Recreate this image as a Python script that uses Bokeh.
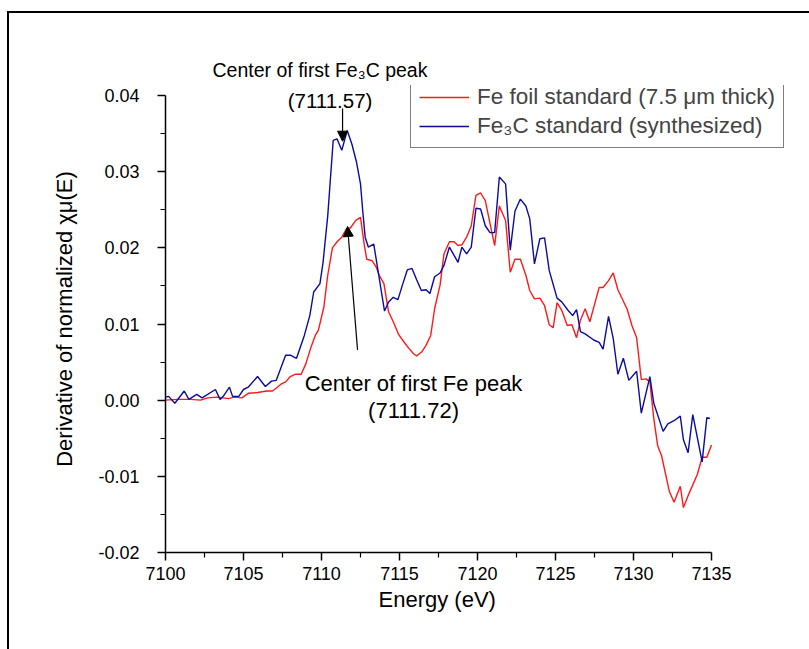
from bokeh.plotting import figure
from bokeh.models import (Label, Arrow, NormalHead, Legend, LegendItem, Title,
                          FixedTicker, NumeralTickFormatter, InlineStyleSheet,
                          ColumnDataSource, Range1d)
from bokeh.embed import file_html
from bokeh.resources import INLINE

# ---------------- data ----------------
fe3c_energy = [7100.0, 7100.2, 7100.6, 7101.2, 7101.5, 7102.0, 7102.35, 7103.2, 7103.5, 7103.7,
               7104.1, 7104.3, 7104.7, 7105.0, 7105.3, 7105.9, 7106.4, 7106.8, 7107.1, 7107.7,
               7108.0, 7108.4, 7108.9, 7109.25, 7109.5, 7109.9, 7110.1, 7110.4, 7110.75, 7111.0,
               7111.3, 7111.65, 7111.95, 7112.25, 7112.5, 7112.65, 7112.8, 7113.0, 7113.35, 7113.67,
               7114.04, 7114.3, 7114.6, 7114.9, 7115.2, 7115.5, 7115.8, 7116.1, 7116.4, 7116.7,
               7116.95, 7117.25, 7117.6, 7117.85, 7118.2, 7118.5, 7118.75, 7119.0, 7119.3, 7119.6,
               7119.9, 7120.2, 7120.5, 7120.8, 7121.1, 7121.4, 7121.8, 7122.1, 7122.4, 7122.75,
               7123.1, 7123.35, 7123.65, 7124.0, 7124.3, 7124.6, 7125.1, 7125.4, 7125.8, 7126.1,
               7126.35, 7126.6, 7126.9, 7127.45, 7127.8, 7128.05, 7128.4, 7128.7, 7129.0, 7129.35,
               7129.7, 7130.2, 7130.5, 7131.05, 7131.3, 7131.9, 7132.2, 7132.6, 7133.0, 7133.2,
               7133.5, 7133.8, 7134.4, 7134.7, 7134.9]
fe3c_deriv = [0.0004, 0.0005, -0.0004, 0.0012, 0.0001, 0.00075, 0.0003, 0.0014, 0.0001, 0.0005,
              0.0017, 0.0005, 0.0005, 0.0014, 0.0017, 0.0031, 0.0018, 0.0025, 0.0026, 0.0059,
              0.0059, 0.0055, 0.0085, 0.0111, 0.0142, 0.0153, 0.0181, 0.0242, 0.0341, 0.0343,
              0.0328, 0.0354, 0.0336, 0.0312, 0.0284, 0.0247, 0.0214, 0.0201, 0.0205, 0.0164,
              0.0117, 0.0129, 0.0135, 0.0132, 0.0152, 0.0171, 0.0173, 0.0158, 0.0144, 0.0145,
              0.0140, 0.0162, 0.0167, 0.0177, 0.0201, 0.0190, 0.0181, 0.0201, 0.0192, 0.0201,
              0.0252, 0.0251, 0.0229, 0.0220, 0.0220, 0.0293, 0.0284, 0.0197, 0.0248, 0.0264,
              0.0255, 0.0238, 0.0179, 0.0212, 0.0213, 0.0170, 0.0134, 0.0129, 0.0118, 0.0111,
              0.0119, 0.0090, 0.0087, 0.0079, 0.0076, 0.0067, 0.0110, 0.0081, 0.0034, 0.0055,
              0.0026, 0.0038, -0.0017, 0.0031, -0.0004, -0.0041, -0.0031, -0.0027, -0.0021, -0.0052,
              -0.0069, -0.0019, -0.0081, -0.0023, -0.0024]

fe_energy = [7100.0, 7100.75, 7101.6, 7102.25, 7102.7, 7103.3, 7103.7, 7104.05, 7104.4, 7104.9,
             7105.3, 7105.9, 7106.5, 7106.85, 7107.05, 7107.4, 7107.7, 7108.0, 7108.3, 7108.7,
             7109.0, 7109.3, 7109.6, 7109.8, 7110.15, 7110.4, 7110.7, 7111.0, 7111.3, 7111.6,
             7111.85, 7112.2, 7112.5, 7112.75, 7112.9, 7113.25, 7113.5, 7113.7, 7114.0, 7114.3,
             7114.6, 7114.95, 7115.3, 7115.6, 7115.9, 7116.1, 7116.45, 7116.7, 7117.0, 7117.25,
             7117.6, 7117.85, 7118.2, 7118.5, 7118.75, 7119.0, 7119.3, 7119.6, 7119.9, 7120.2,
             7120.5, 7120.8, 7121.1, 7121.4, 7121.8, 7122.1, 7122.4, 7122.75, 7123.1, 7123.35,
             7123.65, 7124.0, 7124.3, 7124.6, 7124.85, 7125.1, 7125.4, 7125.75, 7126.05, 7126.35,
             7126.6, 7126.9, 7127.2, 7127.8, 7128.05, 7128.4, 7128.7, 7129.0, 7129.6, 7129.9,
             7130.2, 7130.5, 7130.8, 7131.05, 7131.3, 7131.55, 7131.8, 7132.3, 7132.6, 7133.0,
             7133.2, 7133.55, 7134.1, 7134.4, 7134.7, 7135.0]
fe_deriv = [0.0000, 0.0001, 0.0001, 0.0000, 0.0003, 0.0004, 0.0003, 0.0002, 0.0004, 0.0003,
            0.0009, 0.0010, 0.0012, 0.0012, 0.0015, 0.0021, 0.0024, 0.0031, 0.0034, 0.0034,
            0.0048, 0.0068, 0.0085, 0.0092, 0.0122, 0.0164, 0.0200, 0.0208, 0.0214, 0.0225,
            0.0226, 0.0236, 0.0240, 0.0203, 0.0185, 0.0183, 0.0175, 0.0164, 0.0153, 0.0116,
            0.0103, 0.0086, 0.0076, 0.0068, 0.0061, 0.0058, 0.0064, 0.0072, 0.0085, 0.0120,
            0.0151, 0.0192, 0.0208, 0.0208, 0.0203, 0.0204, 0.0214, 0.0229, 0.0269, 0.0272,
            0.0262, 0.0232, 0.0203, 0.0255, 0.0236, 0.0168, 0.0185, 0.0185, 0.0164, 0.0144,
            0.0133, 0.0134, 0.0124, 0.0099, 0.0095, 0.0128, 0.0118, 0.0098, 0.0099, 0.0082,
            0.0105, 0.0120, 0.0103, 0.0148, 0.0148, 0.0157, 0.0167, 0.0145, 0.0119, 0.0098,
            0.0082, 0.0027, 0.0028, 0.0024, -0.0024, -0.0060, -0.0073, -0.0120, -0.0134, -0.0113,
            -0.0141, -0.0123, -0.0097, -0.0075, -0.0075, -0.0059]

x_ticks = [7100, 7105, 7110, 7115, 7120, 7125, 7130, 7135]
y_ticks = [-0.02, -0.01, 0.00, 0.01, 0.02, 0.03, 0.04]

x_label = "Energy (eV)"
y_label = "Derivative of normalized \u03c7\u03bc(E)"
series_labels = ["Fe foil standard (7.5 \u03bcm thick)", "Fe\u2083C standard (synthesized)"]

fe3c_peak_text = "Center of first Fe\u2083C peak"
fe3c_peak_value = "(7111.57)"
fe3c_arrow = (7111.35, 0.0383, 7111.35, 0.0340)
fe_peak_text = "Center of first Fe peak"
fe_peak_value = "(7111.72)"
fe_arrow = (7112.31, 0.0066, 7111.67, 0.0228)

FONT = "Liberation Sans"
RED = "#ff1a1a"
BLUE = "#0b0b9e"

# axis extents (the axes stop at these values; the drawing area is a bit larger
# so that the legend is not clipped)
X_MIN, X_MAX = 7100, 7135
Y_MIN, Y_MAX = -0.02, 0.04
AXIS_W, AXIS_H = 546, 457          # pixels spanned by the axes
FRAME_W, FRAME_H = 625, 467        # drawing area
LEFT, BOTTOM = 165, 97

# ---------------- figure ----------------
p = figure(frame_width=FRAME_W, frame_height=FRAME_H,
           min_border_left=LEFT, min_border_right=809 - LEFT - FRAME_W,
           min_border_top=649 - BOTTOM - FRAME_H, min_border_bottom=BOTTOM,
           x_range=Range1d(X_MIN, X_MIN + (X_MAX - X_MIN) * FRAME_W / AXIS_W),
           y_range=Range1d(Y_MIN, Y_MIN + (Y_MAX - Y_MIN) * FRAME_H / AXIS_H),
           output_backend="svg", toolbar_location=None,
           background_fill_color="white", border_fill_color="white")
p.outline_line_color = None
p.xgrid.visible = False
p.ygrid.visible = False

fe_src = ColumnDataSource(dict(x=fe_energy, y=fe_deriv))
fe3c_src = ColumnDataSource(dict(x=fe3c_energy, y=fe3c_deriv))
r_fe = p.line("x", "y", source=fe_src, line_color=RED, line_width=1.4)
r_fe3c = p.line("x", "y", source=fe3c_src, line_color=BLUE, line_width=1.4)

# axes
for ax in (p.xaxis[0], p.yaxis[0]):
    ax.axis_line_color = "black"
    ax.axis_line_width = 1.5
    ax.major_tick_line_color = "black"
    ax.major_tick_line_width = 1.5
    ax.minor_tick_line_color = "black"
    ax.minor_tick_line_width = 1.2
    ax.major_tick_in = 0
    ax.major_tick_out = 8
    ax.minor_tick_in = 0
    ax.minor_tick_out = 5
    ax.major_label_text_font = FONT
    ax.major_label_text_font_size = "18px"
    ax.major_label_text_color = "black"
    ax.axis_label_text_font = FONT
    ax.axis_label_text_font_size = "22px"
    ax.axis_label_text_font_style = "normal"
    ax.axis_label_text_color = "black"

p.xaxis.bounds = (X_MIN, X_MAX)
p.yaxis.bounds = (Y_MIN, Y_MAX)
p.xaxis.ticker = FixedTicker(ticks=x_ticks,
                             minor_ticks=[t + 2.5 for t in x_ticks[:-1]])
p.yaxis.ticker = FixedTicker(ticks=y_ticks,
                             minor_ticks=[round(t + 0.005, 3) for t in y_ticks[:-1]])
p.yaxis.formatter = NumeralTickFormatter(format="0.00")
p.xaxis.formatter = NumeralTickFormatter(format="0")
p.yaxis.axis_label = y_label
p.xaxis.major_label_standoff = 6
p.yaxis.major_label_standoff = 18
p.yaxis.axis_label_standoff = 18

# x axis title, centred under the axis span (not the wider drawing area)
p.add_layout(Title(text=x_label, align="left", offset=213, standoff=4,
                   text_font=FONT, text_font_size="22px",
                   text_font_style="normal", text_color="black"), "below")

# note above the drawing area
p.add_layout(Title(text=fe3c_peak_text, align="left", offset=47, standoff=10,
                   text_font=FONT, text_font_size="19.5px",
                   text_font_style="normal", text_color="black"), "above")

# legend
legend = Legend(items=[LegendItem(label=series_labels[0], renderers=[r_fe]),
                       LegendItem(label=series_labels[1], renderers=[r_fe3c])],
                location=(245, 404),
                border_line_color="black", border_line_width=1,
                background_fill_color="white", background_fill_alpha=1,
                label_text_font=FONT, label_text_font_size="22.5px",
                glyph_width=50, glyph_height=24, label_height=24,
                label_standoff=8, padding=8, spacing=3, margin=0)
p.add_layout(legend, "center")

# annotations
def add_text(x, y, txt, size="22px"):
    p.add_layout(Label(x=x, y=y, text=txt, text_font=FONT, text_font_size=size,
                       text_align="center", text_baseline="middle", text_color="black"))

add_text(7110.55, 0.0393, fe3c_peak_value, "20.5px")
add_text(7115.9, 0.0022, fe_peak_text)
add_text(7115.9, -0.0013, fe_peak_value)

for (x0, y0, x1, y1) in (fe3c_arrow, fe_arrow):
    p.add_layout(Arrow(end=NormalHead(size=10, fill_color="black", line_color="black"),
                       x_start=x0, y_start=y0, x_end=x1, y_end=y1,
                       line_color="black", line_width=1.2))

# outer frame line (top and left) drawn with a stylesheet on the figure
p.stylesheets = [InlineStyleSheet(css="""
:host { position: relative; }
:host::after { content: ""; position: absolute; left: 7px; top: 11px;
               width: 900px; height: 900px; border-left: 2px solid black;
               border-top: 2px solid black; pointer-events: none; }
""")]

open("out.html", "w").write(file_html(p, INLINE))
